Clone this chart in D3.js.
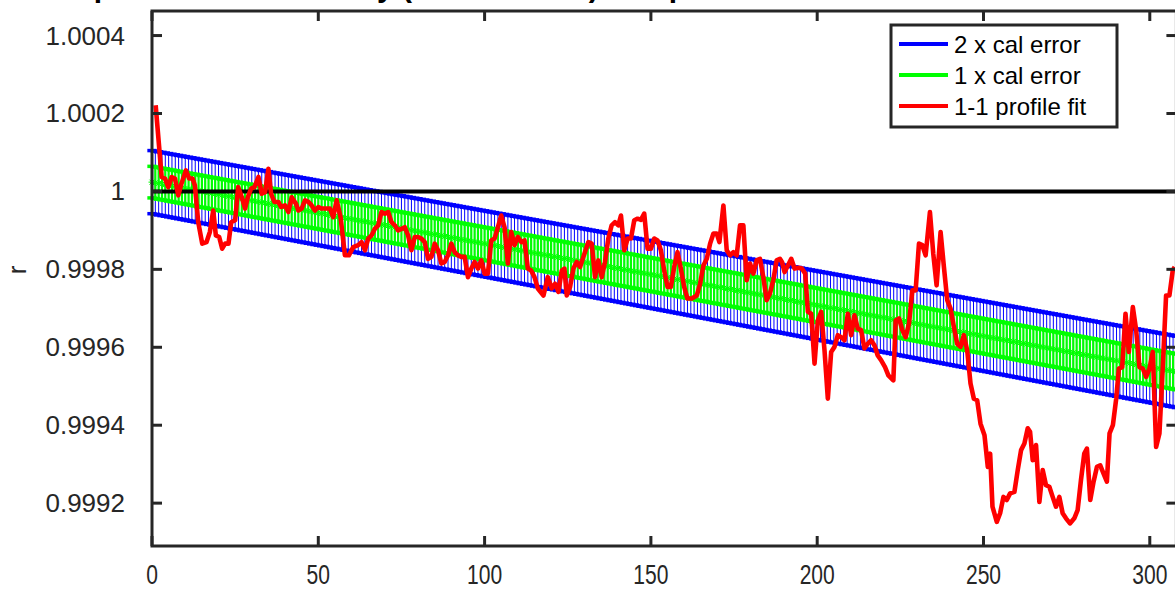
<!DOCTYPE html>
<html><head><meta charset="utf-8">
<script src="https://cdn.jsdelivr.net/npm/d3@7"></script>
<style>
html,body{margin:0;padding:0;background:#fff;}
svg{display:block;font-family:"Liberation Sans",Arial,Helvetica,sans-serif;}
</style></head>
<body><svg id="c" width="1175" height="591"></svg>
<script>
// ---- data ----
const xTicks = [0, 50, 100, 150, 200, 250, 300];
const xTickLabels = ["0", "50", "100", "150", "200", "250", "300"];
const yTicks = [0.9992, 0.9994, 0.9996, 0.9998, 1.0, 1.0002, 1.0004];
const yTickLabels = ["0.9992", "0.9994", "0.9996", "0.9998", "1", "1.0002", "1.0004"];
const legendLabels = ["2 x cal error", "1 x cal error", "1-1 profile fit"];
const titleText = "Comparison of sensitivity (1-1 model fit) and profile of the calibration data";
const yLabel = "r";

// calibration line (straight fit) and its 1-sigma error, read at both ends
const calEndX = [0, 307];
const calCenterEnd = [1.0000238, 0.9995385];
const calSigmaEnd = [0.0000405, 0.0000458];
const calX = d3.range(0, 309); // one error bar per unit

// 1-1 profile fit [x, r]
const profile = [[1.1,1.000221],[2.9,1.000037],[3.9,1.000033],[4.9,1.000011],[5.9,1.000037],[6.9,1.000033],[7.9,0.999990],[8.9,1.000021],[10.2,1.000054],[11.2,1.000033],[12.2,1.000033],[12.9,1.000015],[13.9,0.999921],[15.1,0.999866],[16.4,0.999870],[17.4,0.999896],[18.4,0.999951],[19.2,0.999887],[20.2,0.999883],[21.1,0.999853],[22,0.999866],[23,0.999866],[23.8,0.999921],[25,0.999926],[25.9,1.000011],[27,0.999985],[28,0.999956],[28.8,0.999985],[29.8,1.000007],[30.8,1.000011],[32,1.000037],[33,0.999994],[34,0.999998],[35,1.000058],[35.8,0.999994],[36.8,0.999973],[38,0.999973],[38.8,0.999960],[40,0.999964],[41,0.999947],[42,0.999985],[43.3,0.999968],[44,0.999951],[45,0.999956],[46,0.999977],[47,0.999973],[48,0.999964],[49,0.999951],[50,0.999960],[51,0.999956],[52.5,0.999956],[53.5,0.999956],[54.5,0.999934],[55.5,0.999977],[56.7,0.999934],[58,0.999836],[59.2,0.999836],[60.5,0.999857],[62,0.999862],[63,0.999870],[64,0.999849],[65,0.999879],[66,0.999887],[67,0.999904],[68,0.999913],[69,0.999947],[70,0.999943],[71,0.999947],[72,0.999921],[73,0.999913],[74,0.999900],[75,0.999904],[76,0.999908],[77,0.999887],[78,0.999849],[79,0.999883],[80,0.999883],[81,0.999879],[82,0.999870],[83,0.999827],[84,0.999832],[85,0.999866],[86,0.999849],[87,0.999815],[88,0.999819],[89,0.999836],[90,0.999866],[91,0.999844],[92,0.999836],[93,0.999832],[94,0.999832],[95,0.999780],[96,0.999802],[97,0.999819],[98,0.999802],[99,0.999823],[100,0.999789],[101,0.999789],[102,0.999874],[103,0.999879],[104,0.999908],[105,0.999938],[106,0.999908],[107,0.999815],[108,0.999896],[109,0.999862],[110,0.999883],[111,0.999870],[112,0.999874],[113,0.999802],[114,0.999797],[115,0.999780],[116,0.999751],[117.7,0.999733],[119,0.999780],[120.2,0.999751],[121.2,0.999763],[122.2,0.999742],[123.2,0.999797],[124,0.999802],[124.7,0.999733],[125.7,0.999755],[126.7,0.999802],[127.7,0.999819],[128.7,0.999806],[129.7,0.999832],[131.2,0.999870],[132.2,0.999866],[133.2,0.999780],[134.2,0.999823],[135.2,0.999780],[136.2,0.999819],[137.2,0.999879],[138.2,0.999913],[139.2,0.999921],[140.2,0.999913],[141,0.999938],[142,0.999849],[143,0.999879],[144,0.999879],[145,0.999926],[146,0.999930],[147,0.999927],[148,0.999943],[149,0.999853],[150,0.999853],[151,0.999879],[152,0.999874],[153,0.999849],[154,0.999797],[155,0.999755],[156,0.999755],[157,0.999806],[158,0.999844],[159,0.999802],[160,0.999755],[161,0.999725],[162.3,0.999725],[163.8,0.999733],[164.8,0.999763],[165.8,0.999810],[166.8,0.999827],[167.8,0.999866],[168.8,0.999892],[169.8,0.999892],[170.6,0.999870],[171.8,0.999964],[172.8,0.999849],[173.8,0.999836],[174.8,0.999844],[175.8,0.999836],[176.8,0.999913],[177.8,0.999913],[178.8,0.999772],[179.8,0.999815],[180.8,0.999789],[181.8,0.999823],[182.8,0.999827],[183.8,0.999780],[184.8,0.999721],[185.8,0.999738],[186.8,0.999772],[187.8,0.999823],[188.8,0.999827],[189.4,0.999819],[190.2,0.999793],[191.2,0.999810],[192.2,0.999827],[193.2,0.999802],[194.4,0.999804],[195.4,0.999802],[196.4,0.999789],[197.2,0.999691],[198.2,0.999686],[199.2,0.999558],[200.2,0.999669],[201.2,0.999691],[202.2,0.999592],[203.2,0.999468],[204.2,0.999588],[205.2,0.999601],[206.2,0.999631],[207.2,0.999626],[208.2,0.999618],[209.2,0.999686],[210.2,0.999631],[211.2,0.999682],[212.2,0.999648],[213.2,0.999644],[214.2,0.999597],[215.2,0.999609],[216.2,0.999618],[217.2,0.999605],[218.2,0.999579],[219.2,0.999567],[220.4,0.999549],[221.4,0.999528],[222.9,0.999515],[223.6,0.999669],[224.6,0.999674],[225.6,0.999644],[226.6,0.999626],[227.6,0.999661],[228.6,0.999746],[229.6,0.999746],[230.6,0.999866],[231.6,0.999862],[232.6,0.999836],[233.9,0.999947],[234.9,0.999840],[235.9,0.999759],[237.1,0.999896],[238.1,0.999806],[239.1,0.999721],[240.1,0.999699],[241.1,0.999652],[242.1,0.999609],[243.1,0.999601],[244.1,0.999631],[245.1,0.999592],[246.1,0.999507],[247.1,0.999468],[248.1,0.999464],[249.1,0.999404],[250.3,0.999374],[251.3,0.999293],[252,0.999327],[252.7,0.999191],[254,0.999152],[255,0.999174],[256,0.999216],[257,0.999208],[258,0.999225],[259.3,0.999229],[260.3,0.999285],[261.3,0.999336],[262.3,0.999353],[263.3,0.999392],[264,0.999383],[264.8,0.999310],[265.8,0.999349],[266.8,0.999203],[267.8,0.999285],[268.8,0.999246],[269.8,0.999242],[270.8,0.999216],[271.8,0.999191],[272.8,0.999216],[273.8,0.999174],[274.8,0.999161],[276,0.999148],[277.3,0.999161],[278.3,0.999182],[279.3,0.999259],[280.3,0.999327],[281.1,0.999340],[282.1,0.999208],[283.1,0.999255],[284.1,0.999293],[285.1,0.999297],[286.1,0.999276],[287.1,0.999255],[287.9,0.999379],[288.9,0.999400],[289.9,0.999468],[290.7,0.999545],[291.7,0.999549],[292.7,0.999686],[293.7,0.999588],[294.9,0.999703],[295.9,0.999644],[296.9,0.999549],[297.9,0.999545],[298.9,0.999524],[299.9,0.999545],[300.9,0.999588],[301.9,0.999344],[302.9,0.999379],[303.9,0.999549],[304.9,0.999733],[305.9,0.999733],[306.9,0.999797],[307.5,0.999806]];

// ---- drawing ----
const svg = d3.select("#c");
const axisColor = "#262626";
const L = 152, R = 1176.4, T = 11, B = 546;
const x = d3.scaleLinear().domain([0, 308]).range([L, R]);
const y = d3.scaleLinear().domain([0.99909, 1.000463]).range([B, T]);

const centerAt = d3.scaleLinear().domain(calEndX).range(calCenterEnd);
const sigmaAt = d3.scaleLinear().domain(calEndX).range(calSigmaEnd);
const bars = calX.map(v => ({x: v, c: centerAt(v), s: sigmaAt(v)}));

// 2x error bars (blue)
const gB = svg.append("g");
gB.selectAll("line.v").data(bars).join("line")
  .attr("x1", d => x(d.x)).attr("x2", d => x(d.x))
  .attr("y1", d => y(d.c - 2 * d.s)).attr("y2", d => y(d.c + 2 * d.s))
  .attr("stroke", "#0000ff").attr("stroke-width", 1);
const capW = 1.4;
[-1, 1].forEach(k => {
  gB.append("g").selectAll("line").data(bars).join("line")
    .attr("x1", d => x(d.x - capW)).attr("x2", d => x(d.x + capW))
    .attr("y1", d => y(d.c + k * 2 * d.s)).attr("y2", d => y(d.c + k * 2 * d.s))
    .attr("stroke", "#0000ff").attr("stroke-width", 3.5);
});

// 1x error bars (green)
const gG = svg.append("g");
gG.selectAll("line.v").data(bars).join("line")
  .attr("x1", d => x(d.x)).attr("x2", d => x(d.x))
  .attr("y1", d => y(d.c - d.s)).attr("y2", d => y(d.c + d.s))
  .attr("stroke", "#00ff00").attr("stroke-width", 2.2);
[-1, 1].forEach(k => {
  gG.append("g").selectAll("line").data(bars).join("line")
    .attr("x1", d => x(d.x - capW)).attr("x2", d => x(d.x + capW))
    .attr("y1", d => y(d.c + k * d.s)).attr("y2", d => y(d.c + k * d.s))
    .attr("stroke", "#00ff00").attr("stroke-width", 3.5);
});
// asterisk markers
const ast = (cx, cy, r) => {
  const a = r * 0.707;
  return `M${cx-r},${cy}L${cx+r},${cy}M${cx},${cy-r}L${cx},${cy+r}M${cx-a},${cy-a}L${cx+a},${cy+a}M${cx-a},${cy+a}L${cx+a},${cy-a}`;
};
gG.selectAll("path").data(bars).join("path")
  .attr("d", d => ast(x(d.x), y(d.c), 3.5))
  .attr("stroke", "#00ff00").attr("stroke-width", 1).attr("fill", "none");

// reference line r = 1
svg.append("line").attr("x1", x(0)).attr("x2", x(308)).attr("y1", y(1)).attr("y2", y(1))
  .attr("stroke", "#000").attr("stroke-width", 4);

// profile fit (red)
svg.append("path").datum(profile)
  .attr("d", d3.line().x(d => x(d[0])).y(d => y(d[1])))
  .attr("fill", "none").attr("stroke", "#ff0000").attr("stroke-width", 4.6)
  .attr("stroke-linejoin", "round");

// axes box
const gA = svg.append("g").attr("stroke", axisColor).attr("stroke-width", 3).attr("fill", "none");
gA.append("rect").attr("x", L).attr("y", T).attr("width", R - L).attr("height", B - T);
const tl = 10;
xTicks.forEach(t => {
  gA.append("line").attr("x1", x(t)).attr("x2", x(t)).attr("y1", B).attr("y2", B - tl);
  gA.append("line").attr("x1", x(t)).attr("x2", x(t)).attr("y1", T).attr("y2", T + tl);
});
yTicks.forEach(t => {
  gA.append("line").attr("x1", L).attr("x2", L + tl).attr("y1", y(t)).attr("y2", y(t));
  gA.append("line").attr("x1", R).attr("x2", R - tl).attr("y1", y(t)).attr("y2", y(t));
});

// tick labels
svg.append("g").selectAll("text").data(xTicks).join("text")
  .attr("transform", d => `translate(${x(d)},584) scale(0.78,1)`)
  .attr("text-anchor", "middle").attr("font-size", 27).attr("fill", axisColor)
  .text((d, i) => xTickLabels[i]);
svg.append("g").selectAll("text").data(yTicks).join("text")
  .attr("x", 125).attr("y", d => y(d) + 9)
  .attr("text-anchor", "end").attr("font-size", 26).attr("fill", axisColor)
  .text((d, i) => yTickLabels[i]);

// y label
svg.append("text").attr("transform", "translate(26,270) rotate(-90)")
  .attr("text-anchor", "middle").attr("font-size", 26).attr("fill", axisColor).text(yLabel);

// title (mostly above the visible area, as in the reference)
svg.append("text").attr("x", 27).attr("y", -3).attr("text-anchor", "start")
  .attr("font-size", 30).attr("font-weight", "bold").attr("fill", "#000").text(titleText);

// legend
const colors = ["#0000ff", "#00ff00", "#ff0000"];
const gL = svg.append("g");
gL.append("rect").attr("x", 891).attr("y", 25).attr("width", 226).attr("height", 102)
  .attr("fill", "#fff").attr("stroke", axisColor).attr("stroke-width", 3);
legendLabels.forEach((lab, i) => {
  const ly = 44 + i * 31;
  gL.append("line").attr("x1", 899).attr("x2", 948).attr("y1", ly).attr("y2", ly)
    .attr("stroke", colors[i]).attr("stroke-width", 4);
  gL.append("text").attr("x", 954).attr("y", ly + 8.5).attr("font-size", 24).attr("fill", "#000").text(lab);
});
</script></body></html>
